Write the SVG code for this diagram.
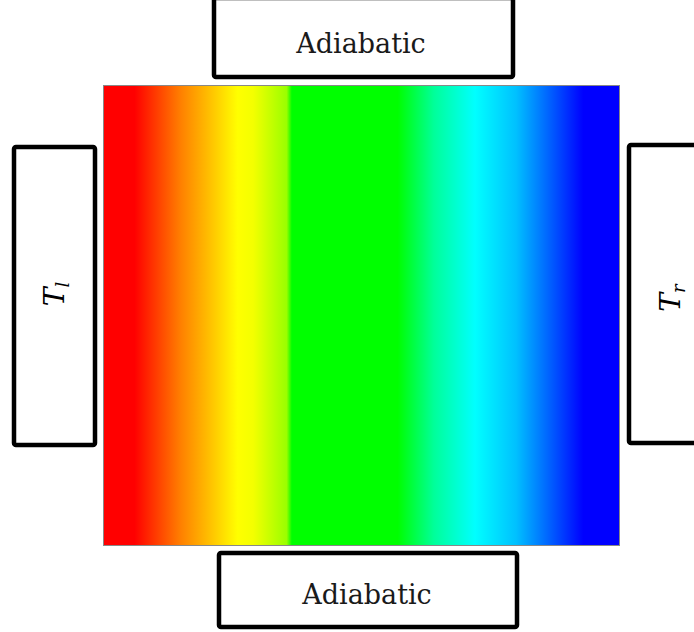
<svg xmlns="http://www.w3.org/2000/svg" width="694" height="632" viewBox="0 0 694 632">
<style>
.box{fill:#fff;stroke:#000;stroke-width:4.5}
.lbl{font-family:"DejaVu Serif","Liberation Serif",serif;font-size:27px;fill:#1a1a1a;text-anchor:middle}
.math{font-family:"DejaVu Serif","Liberation Serif",serif;font-style:italic;font-size:28px;fill:#000}
.sub{font-size:18px}
</style>
<defs>
<linearGradient id="jet" x1="0" y1="0" x2="1" y2="0">
<stop offset="0" stop-color="#ff0000"/>
<stop offset="0.06" stop-color="#ff0000"/>
<stop offset="0.15" stop-color="#ff8000"/>
<stop offset="0.26" stop-color="#ffff00"/>
<stop offset="0.29" stop-color="#f4ff00"/>
<stop offset="0.355" stop-color="#9aff00"/>
<stop offset="0.365" stop-color="#00ff00"/>
<stop offset="0.57" stop-color="#00ff00"/>
<stop offset="0.64" stop-color="#00ff99"/>
<stop offset="0.72" stop-color="#00ffff"/>
<stop offset="0.80" stop-color="#00c0ff"/>
<stop offset="0.93" stop-color="#0000ff"/>
<stop offset="1" stop-color="#0000ff"/>
</linearGradient>
</defs>
<g id="domain">
<rect x="103.5" y="85.5" width="516" height="460" fill="url(#jet)" stroke="#888" stroke-width="1"/>
</g>
<g id="connectors"></g>
<g id="top">
<rect class="box" x="214" y="-2" width="299" height="79" rx="2"/>
<text class="lbl" x="361" y="53">Adiabatic</text>
</g>
<g id="bottom">
<rect class="box" x="219" y="553" width="298" height="74" rx="2"/>
<text class="lbl" x="367" y="604">Adiabatic</text>
</g>
<g id="left">
<rect class="box" x="14" y="147" width="81" height="298" rx="2"/>
<text class="math" transform="translate(64,294) rotate(-90)" text-anchor="middle">T<tspan class="sub" dy="5">l</tspan></text>
</g>
<g id="right">
<rect class="box" x="629" y="145" width="80" height="298" rx="2"/>
<text class="math" transform="translate(680,298) rotate(-90)" text-anchor="middle">T<tspan class="sub" dy="5">r</tspan></text>
</g>
</svg>
